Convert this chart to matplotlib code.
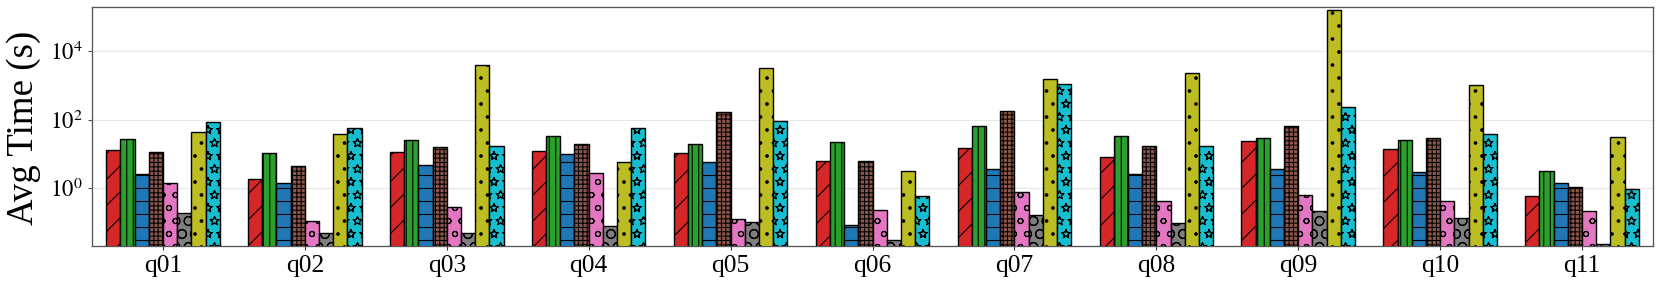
import numpy as np
import matplotlib
matplotlib.use("Agg")
import matplotlib.pyplot as plt
import matplotlib.hatch

plt.rcParams["font.family"] = ["Liberation Serif", "DejaVu Serif"]
plt.rcParams["mathtext.fontset"] = "stix"
plt.rcParams["hatch.linewidth"] = 1.0

# outlined stars like the reference
matplotlib.hatch.Stars.filled = False

queries = ["q01", "q02", "q03", "q04", "q05", "q06", "q07", "q08", "q09", "q10", "q11"]

# avg time (s) per system
sys_red = [13.2, 1.87, 11.5, 12.0, 10.8, 6.4, 15.4, 8.0, 23.6, 14.4, 0.61]
sys_green = [27.5, 10.8, 26.4, 33.0, 20.0, 23.0, 66.0, 33.0, 30.0, 26.4, 3.2]
sys_blue = [2.68, 1.40, 4.9, 9.8, 5.9, 0.085, 3.75, 2.68, 3.75, 3.0, 1.40]
sys_brown = [11.5, 4.39, 16.5, 20.0, 173.0, 6.4, 186.0, 17.6, 67.5, 28.8, 1.09]
sys_pink = [1.43, 0.111, 0.279, 2.87, 0.127, 0.233, 0.80, 0.427, 0.64, 0.436, 0.213]
sys_gray = [0.195, 0.049, 0.049, 0.079, 0.102, 0.031, 0.166, 0.099, 0.223, 0.133, 0.0242]
sys_olive = [44.0, 39.5, 4000.0, 6.0, 3330.0, 3.28, 1590.0, 2340.0, 161000.0, 1016.0, 31.6]
sys_cyan = [88.0, 59.0, 17.6, 59.0, 95.0, 0.61, 1120.0, 17.2, 242.0, 39.5, 0.98]

series = [sys_red, sys_green, sys_blue, sys_brown, sys_pink, sys_gray, sys_olive, sys_cyan]
colors = ["#d62728", "#2ca02c", "#1f77b4", "#8c564b",
          "#e377c2", "#7f7f7f", "#bcbd22", "#17becf"]
hatches = ["/", "||", "-", "+++", "o", "O", ".", "*"]

dpi = 78
fig = plt.figure(figsize=(1661 / dpi, 286 / dpi), dpi=dpi)
ax = fig.add_axes([92 / 1661, 1 - 246 / 286, (1653 - 92) / 1661, (246 - 7.3) / 286])

x = np.arange(len(queries))
width = 0.1
for i, vals in enumerate(series):
    ax.bar(
        x + (i - 3.5) * width,
        vals,
        width,
        color=colors[i],
        edgecolor="black",
        linewidth=1.3,
        hatch=hatches[i],
        zorder=3
    )

ax.set_yscale("log")
ax.set_ylim(0.0207, 1.93e5)
ax.set_xlim(-0.5, len(queries) - 0.5)
ax.set_yticks([1, 1e2, 1e4])
ax.set_yticklabels([r"$10^{0}$", r"$10^{2}$", r"$10^{4}$"])
ax.yaxis.set_minor_locator(matplotlib.ticker.NullLocator())
ax.set_xticks(x)
ax.set_xticklabels(queries)

ax.tick_params(axis="y", length=4, width=1, color="#555555", pad=5, labelsize=21)
ax.tick_params(axis="x", length=4, width=1, color="#333333", pad=4, labelsize=23.5)
ax.grid(axis="y", color="#e6e6e6", linewidth=1, zorder=0)

for sp in ax.spines.values():
    sp.set_color("#555555")
    sp.set_linewidth(1.2)

ax.set_ylabel("Avg Time (s)", fontsize=34)
ax.yaxis.set_label_coords((41 - 92) / 1561, 0.496)

plt.savefig("out.png", dpi=dpi)
